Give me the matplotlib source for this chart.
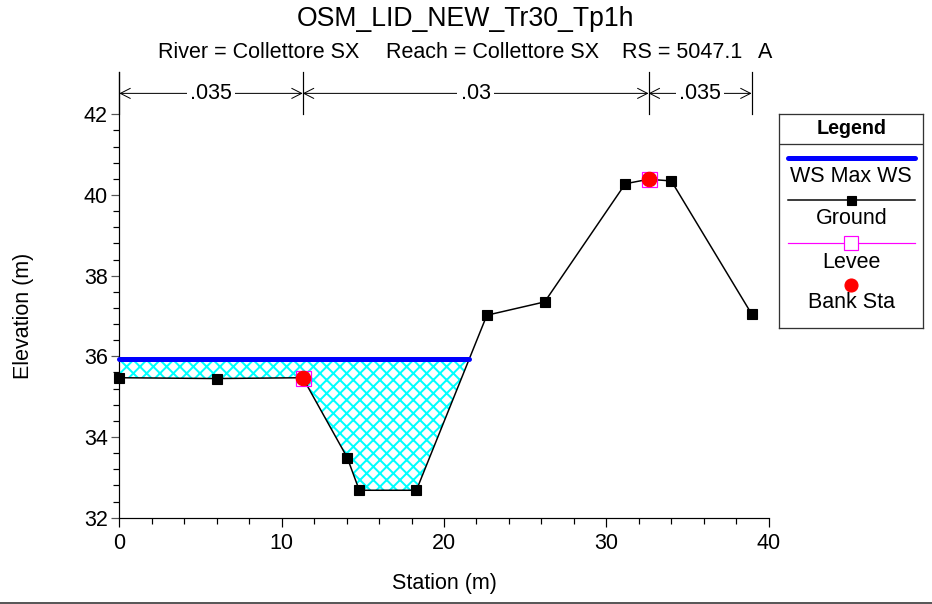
import numpy as np
import matplotlib
matplotlib.use('Agg')
import matplotlib.pyplot as plt
from matplotlib.lines import Line2D

# figure is laid out in pixels
W, H, DPI = 932, 604, 80
PT = 72.0 / DPI   # points per pixel

plt.rcParams['font.family'] = ['Liberation Sans', 'DejaVu Sans']
plt.rcParams['hatch.linewidth'] = 1.8

# ground survey of the cross section
station = [0.0, 6.0, 11.3, 14.04, 14.78, 18.3, 22.64, 26.2, 31.17, 32.6, 34.0, 38.95]
elevation = [35.47, 35.45, 35.47, 33.49, 32.68, 32.68, 37.02, 37.35, 40.28, 40.39, 40.35, 37.05]

bank_sta = [11.3, 32.6]
levee_sta = [11.3, 32.6]
ws_max = 35.93

# manning n breaks along the top
n_breaks = [0.0, 11.3, 32.6, 38.95]
n_values = ['.035', '.03', '.035']

title = 'OSM_LID_NEW_Tr30_Tp1h'
river = 'River = Collettore SX'
reach = 'Reach = Collettore SX'
rs = 'RS = 5047.1'
rs_tag = 'A'

legend_items = ['WS Max WS', 'Ground', 'Levee', 'Bank Sta']

FS = 21.5 * PT


def fx(px):
    return px / W


def fy(py):
    return 1 - py / H


fig = plt.figure(figsize=(W / DPI, H / DPI), dpi=DPI)

ax = fig.add_axes([fx(119.3), fy(517.7), (768.7 - 119.3) / W, (517.7 - 72) / H])
ax.set_xlim(0, 40)
ax.set_ylim(32, 43.05)
for s in ['top', 'right']:
    ax.spines[s].set_visible(False)
for s in ['left', 'bottom']:
    ax.spines[s].set_linewidth(1.2 * PT)

sta = np.array(station)
elev = np.array(elevation)

# water surface: runs from left edge to where the ground climbs back above it
low = int(np.argmin(elev))
i = low
while elev[i] <= ws_max:
    i += 1
x_cross = np.interp(ws_max, [elev[i - 1], elev[i]], [sta[i - 1], sta[i]])

ax.fill_between(sta, elev, ws_max, where=elev <= ws_max, interpolate=True,
                facecolor='white', edgecolor='#00ffff', hatch='xx', linewidth=0, zorder=1)
ax.plot(sta, elev, color='black', lw=1.5 * PT, marker='s', ms=9.5 * PT, zorder=3,
        clip_on=False)
ax.plot([0, x_cross], [ws_max, ws_max], color='#0000ff', lw=5 * PT,
        solid_capstyle='round', zorder=4, clip_on=False)

lev_elev = np.interp(levee_sta, sta, elev)
ax.plot(levee_sta, lev_elev, ls='none', marker='s', ms=15 * PT, mfc='none',
        mec='#ff00ff', mew=1.2 * PT, zorder=5)
bank_elev = np.interp(bank_sta, sta, elev)
ax.plot(bank_sta, bank_elev, ls='none', marker='o', ms=14.5 * PT, color='#ff0000', zorder=6)

# n value dimension lines
y_top, y_bot, y_arr = 43.05, 42.0, 42.52
for xb in n_breaks:
    ax.plot([xb, xb], [y_bot, y_top], color='black', lw=1.2 * PT, clip_on=False, zorder=2)
for k, nv in enumerate(n_values):
    x0, x1 = n_breaks[k], n_breaks[k + 1]
    ax.annotate('', xy=(x1, y_arr), xytext=(x0, y_arr),
                arrowprops=dict(arrowstyle='<->,head_length=0.55,head_width=0.28',
                                lw=1.0 * PT, color='black', shrinkA=0, shrinkB=0,
                                mutation_scale=18 * PT), zorder=2)
    ax.text((x0 + x1) / 2, y_arr, nv, ha='center', va='center', fontsize=FS,
            bbox=dict(boxstyle='square,pad=0.15', fc='white', ec='none'), zorder=3)

ax.set_xticks([0, 10, 20, 30, 40])
ax.set_xticks(np.arange(0, 40.01, 2), minor=True)
ax.set_yticks([32, 34, 36, 38, 40, 42])
ax.set_yticks(np.arange(32, 42.01, 0.4), minor=True)
ax.tick_params(axis='x', which='major', direction='out', length=9 * PT, width=1.2 * PT,
               labelsize=FS, pad=6 * PT)
ax.tick_params(axis='x', which='minor', direction='out', length=6 * PT, width=1.2 * PT)
ax.tick_params(axis='y', which='major', direction='out', length=8 * PT, width=1.2 * PT,
               labelsize=FS, pad=3.5 * PT, color='#555555')
ax.tick_params(axis='y', which='minor', direction='out', length=6 * PT, width=1.2 * PT)

# titles and axis labels
fig.text(fx(466), fy(19), title, ha='center', va='center', fontsize=26.6 * PT)
fig.text(fx(158), fy(53), river, ha='left', va='center', fontsize=FS)
fig.text(fx(386), fy(53), reach, ha='left', va='center', fontsize=FS)
fig.text(fx(622), fy(53), rs, ha='left', va='center', fontsize=FS)
fig.text(fx(758), fy(53), rs_tag, ha='left', va='center', fontsize=FS)
fig.text(fx(444), fy(583), 'Station (m)', ha='center', va='center', fontsize=FS)
fig.text(fx(24), fy(316), 'Elevation (m)', ha='center', va='center', rotation=90, fontsize=FS)

# legend panel, drawn in its own pixel frame
lg = fig.add_axes([fx(779.3), fy(328), 144 / W, 214 / H])
lg.set_xlim(0, 144)
lg.set_ylim(214, 0)
lg.set_xticks([])
lg.set_yticks([])
for s in lg.spines.values():
    s.set_linewidth(1.3 * PT)
    s.set_color('#333333')
lg.plot([0, 144], [30.3, 30.3], color='#333333', lw=1.3 * PT)
lg.text(72, 14, 'Legend', ha='center', va='center', fontsize=FS * 0.92, fontweight='bold')

lg.plot([9, 136], [43.7, 43.7], color='#0000ff', lw=5 * PT, solid_capstyle='round')
lg.text(72, 62, legend_items[0], ha='center', va='center', fontsize=FS)
lg.plot([9, 136], [86, 86], color='black', lw=1.5 * PT)
lg.plot([72], [86], marker='s', ms=9 * PT, color='black')
lg.text(72, 104, legend_items[1], ha='center', va='center', fontsize=FS)
lg.plot([9, 136], [129, 129], color='#ff00ff', lw=1.2 * PT)
lg.plot([72], [129], marker='s', ms=14 * PT, mfc='white', mec='#ff00ff', mew=1.2 * PT)
lg.text(72, 148, legend_items[2], ha='center', va='center', fontsize=FS)
lg.plot([72], [171], marker='o', ms=13 * PT, color='#ff0000')
lg.text(72, 188, legend_items[3], ha='center', va='center', fontsize=FS)

# rule along the bottom edge of the window
fig.add_artist(Line2D([0, 1], [fy(603), fy(603)], color='#222222', lw=1.5 * PT,
                      transform=fig.transFigure))

fig.savefig('out.png', dpi=DPI)
